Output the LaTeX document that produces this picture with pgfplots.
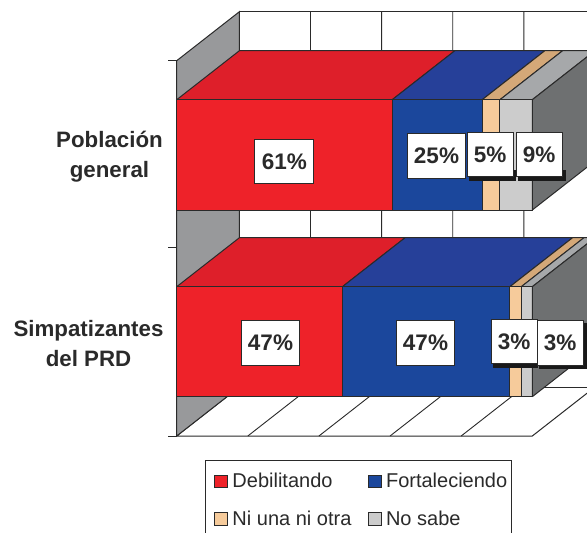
\documentclass[border=0pt]{standalone}
\usepackage{fontspec}
\setmainfont{Liberation Sans}
\usepackage{pgfplots}
\pgfplotsset{compat=1.18}

\definecolor{cred}{HTML}{EE2229}
\definecolor{credtop}{HTML}{DE1F2A}
\definecolor{cblue}{HTML}{1B479C}
\definecolor{cbluetop}{HTML}{264099}
\definecolor{cpeach}{HTML}{F6CB9B}
\definecolor{cpeachtop}{HTML}{D4A878}
\definecolor{cgrey}{HTML}{CCCCCC}
\definecolor{cgreytop}{HTML}{A6A8AA}
\definecolor{cside}{HTML}{6E7071}
\definecolor{cwall}{HTML}{98999B}
\definecolor{cline}{HTML}{2A2A2A}

% one stacked segment: from %, to %, bottom, top, front colour, top colour
\newcommand{\segment}[6]{%
  \addplot3[forget plot,draw=cline,line width=1pt,fill=#6] coordinates
    {(#1,0,#4) (#2,0,#4) (#2,1,#4) (#1,1,#4) (#1,0,#4)};
  \addplot3[forget plot,draw=cline,line width=1pt,fill=#5] coordinates
    {(#1,0,#3) (#2,0,#3) (#2,0,#4) (#1,0,#4) (#1,0,#3)};
}
\newcommand{\sideface}[2]{%
  \addplot3[forget plot,draw=cline,line width=1pt,fill=cside] coordinates
    {(100,0,#1) (100,1,#1) (100,1,#2) (100,0,#2) (100,0,#1)};
}
\newcommand{\gridline}[1]{%
  \addplot3[forget plot,draw=cline,line width=0.9pt] coordinates
    {(#1,0,0) (#1,1,0) (#1,1,375.3)};
}
\newcommand{\ticktop}[1]{%
  \addplot3[forget plot,draw=cline,line width=1pt] coordinates
    {(-2.4,0,#1) (0,0,#1)};
}
% value box: x0, y0, x1, y1 in px from the top left, text
\newcommand{\valbox}[5]{%
  \node[draw=cline,fill=white,line width=1pt,inner sep=0pt,minimum width=#3pt-#1pt,
        minimum height=#4pt-#2pt,anchor=north west,text=cline,
        font=\fontsize{22.5}{24}\selectfont\bfseries]
        at (#1pt,-#2pt) {#5};
}
\newcommand{\shadow}[4]{%
  \fill[black!90] (#1pt,-#2pt) rectangle (#3pt,-#4pt);
}

\begin{document}
\begin{tikzpicture}
\path[use as bounding box] (0pt,0pt) rectangle (587pt,-533pt);
\clip (0pt,0pt) rectangle (587pt,-533pt);
\begin{axis}[
    at={(176.7pt,-436pt)},
    anchor=origin,
    x={(3.556pt,0pt)},
    y={(62.7pt,49pt)},
    z={(0pt,1pt)},
    xmin=0,xmax=100,ymin=0,ymax=1,zmin=0,zmax=375.3,
    hide axis,
    clip=false,
    legend columns=2,
    legend cell align=left,
    legend image code/.code={\path (-6pt,0pt); \draw[#1,line width=1pt] (0pt,-6pt) rectangle (13pt,6.5pt);},
    legend style={
        at={(axis cs:8.04,0,-24)},
        anchor=north west,
        draw=cline,
        line width=1pt,
        inner xsep=2.4pt,
        inner ysep=11pt,
        font=\fontsize{20}{22}\selectfont,
        text=cline,
        /tikz/every odd column/.append style={column sep=2.3pt},
        /tikz/every even column/.append style={column sep=8.3pt},
        /tikz/row sep=18pt,
    },
]
% walls and floor
\addplot3[forget plot,draw=cline,line width=1pt,fill=white] coordinates
    {(0,0,0) (100,0,0) (100,1,0) (0,1,0) (0,0,0)};
\addplot3[forget plot,draw=cline,line width=1pt,fill=white] coordinates
    {(0,1,0) (100,1,0) (100,1,375.3) (0,1,375.3) (0,1,0)};
\addplot3[forget plot,draw=cline,line width=1pt,fill=cwall] coordinates
    {(0,0,0) (0,1,0) (0,1,375.3) (0,0,375.3) (0,0,0)};
\gridline{20}
\gridline{40}
\gridline{60}
\gridline{80}
\ticktop{375.3}
\ticktop{188.7}
\ticktop{0}
% Simpatizantes del PRD
\segment{0}{46.6}{39.3}{149.3}{cred}{credtop}
\segment{46.6}{93.7}{39.3}{149.3}{cblue}{cbluetop}
\segment{93.7}{96.9}{39.3}{149.3}{cpeach}{cpeachtop}
\segment{96.9}{100}{39.3}{149.3}{cgrey}{cgreytop}
\sideface{39.3}{149.3}
% Poblacion general
\segment{0}{60.6}{226}{336.3}{cred}{credtop}
\segment{60.6}{85.9}{226}{336.3}{cblue}{cbluetop}
\segment{85.9}{90.9}{226}{336.3}{cpeach}{cpeachtop}
\segment{90.9}{100}{226}{336.3}{cgrey}{cgreytop}
\sideface{226}{336.3}
% legend
\addlegendimage{fill=cred,draw=cline}
\addlegendentry{Debilitando}
\addlegendimage{fill=cblue,draw=cline}
\addlegendentry{Fortaleciendo}
\addlegendimage{fill=cpeach,draw=cline}
\addlegendentry{Ni una ni otra}
\addlegendimage{fill=cgrey,draw=cline}
\addlegendentry{No sabe}
\end{axis}

% category names
\node[align=center,text=cline,font=\fontsize{22.3}{30}\selectfont\bfseries] at (109.5pt,-156.5pt) {Población\\general};
\node[align=center,text=cline,font=\fontsize{22.3}{30}\selectfont\bfseries] at (88.5pt,-344pt) {Simpatizantes\\del PRD};

% value labels
\valbox{254.3}{138.7}{313.3}{183.3}{61\%}
\valbox{406.7}{133.3}{465.3}{178}{25\%}
\shadow{469}{170}{516}{180.7}
\valbox{466.7}{132}{512.7}{176}{5\%}
\shadow{518}{170}{566}{180.7}
\valbox{515.7}{132}{561.7}{176}{9\%}
\valbox{240.7}{320}{299.3}{365.3}{47\%}
\valbox{395.7}{320}{454.3}{365.3}{47\%}
\shadow{493}{358}{538}{367.7}
\valbox{490.7}{318.7}{536.7}{363.3}{3\%}
\shadow{539}{323}{590}{369}
\valbox{536.7}{320}{582.7}{364.7}{3\%}
\end{tikzpicture}
\end{document}
